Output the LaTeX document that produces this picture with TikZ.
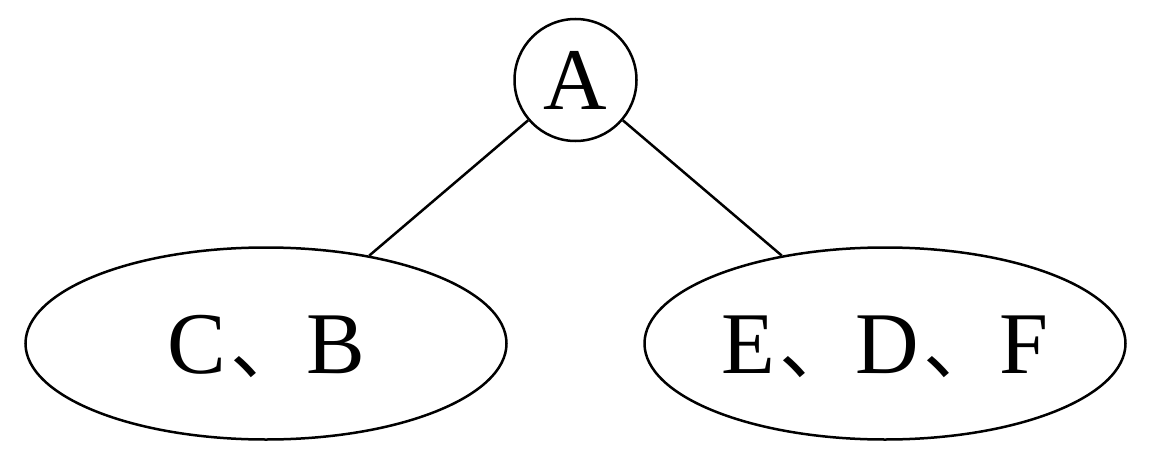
\documentclass[tikz,border=0pt]{standalone}
\usepackage{fontspec}
\setmainfont{Liberation Serif}
\newfontfamily\cjk{Noto Sans CJK SC}
\usetikzlibrary{shapes.geometric}
\newcommand{\dun}{\kern4pt{\fontsize{76}{100}\selectfont\cjk 、}}
\begin{document}
\begin{tikzpicture}[x=1pt,y=1pt,
  every node/.style={font=\fontsize{88}{100}\selectfont, inner sep=0pt, text height=60pt, text depth=0pt},
  rootnode/.style={circle, draw, line width=2.5pt, minimum size=122pt},
  groupnode/.style={ellipse, draw, line width=2.5pt, minimum width=481pt, minimum height=192pt},
  link/.style={line width=2.5pt}]
\useasboundingbox (0,0) rectangle (1152,-460);
\node[rootnode] (A) at (575.5,-80) {A};
\node[groupnode] (L) at (266,-343.5) {C\dun B};
\node[groupnode] (R) at (885,-343.5) {E\dun D\dun F};
\draw[link] (A) -- (L);
\draw[link] (A) -- (R);
\end{tikzpicture}
\end{document}
